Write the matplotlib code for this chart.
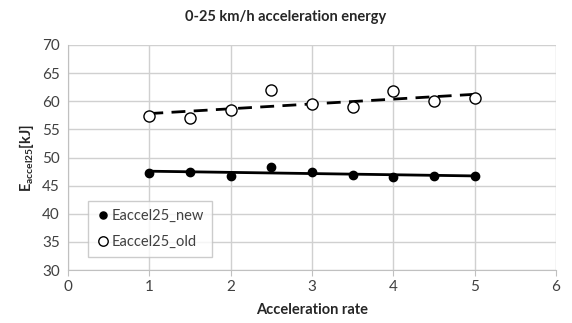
import matplotlib
matplotlib.use("Agg")
import matplotlib.pyplot as plt
import numpy as np

plt.rcParams['font.family'] = ['Lato', 'DejaVu Sans']

rate = [1, 1.5, 2, 2.5, 3, 3.5, 4, 4.5, 5]
e_new = [47.3, 47.5, 46.8, 48.3, 47.4, 46.9, 46.6, 46.8, 46.7]
e_old = [57.3, 57.0, 58.5, 62.0, 59.5, 59.0, 61.8, 60.1, 60.5]
xticks = [0, 1, 2, 3, 4, 5, 6]
yticks = [30, 35, 40, 45, 50, 55, 60, 65, 70]

fig = plt.figure(figsize=(5.72, 3.23), dpi=100)
ax = fig.add_axes([68/572, 1-270/323, 488/572, 225/323])

x = np.array(rate)
for ys, ls in ((e_new, '-'), (e_old, (0, (5, 3)))):
    p = np.polyfit(x, ys, 1)
    xx = np.array([min(rate), max(rate)])
    ax.plot(xx, np.polyval(p, xx), color='black', lw=2, ls=ls, zorder=2)

ax.plot(rate, e_new, 'o', color='black', ms=6, label='Eaccel25_new', zorder=3)
ax.plot(rate, e_old, 'o', mfc='white', mec='black', mew=1, ms=8, label='Eaccel25_old', zorder=3)

ax.set_xlim(0, 6)
ax.set_ylim(30, 70)
ax.set_xticks(xticks)
ax.set_yticks(yticks)
ax.grid(True, color='#d0d0d0', lw=1)
ax.set_axisbelow(True)
for s in ('top', 'right'):
    ax.spines[s].set_visible(False)
for s in ('left', 'bottom'):
    ax.spines[s].set_color('#c0c0c0')
ax.tick_params(axis='both', colors='#c0c0c0', labelcolor='#404040', labelsize=11, length=4)
ax.tick_params(axis='y', length=0, pad=6)

ax.set_xlabel('Acceleration rate', fontsize=10.5, fontweight='bold', color='#262626', labelpad=6)
ax.set_ylabel(r'E$_{\mathregular{accel25}}$[kJ]', fontsize=10.5, fontweight='bold', color='#262626', labelpad=4)
fig.text(0.5, 1-17/323, '0-25 km/h acceleration energy', ha='center', va='center',
         fontsize=10.5, fontweight='bold', color='#262626')

leg = ax.legend(loc='lower left', bbox_to_anchor=(0.041, 0.058), borderaxespad=0, fontsize=10.5,
                frameon=True, fancybox=False, edgecolor='#c0c0c0', handletextpad=0.1,
                handlelength=1.0, borderpad=0.55, labelspacing=0.8, markerscale=0.85)
for t in leg.get_texts():
    t.set_color('#404040')

fig.savefig('out.png', dpi=100)
